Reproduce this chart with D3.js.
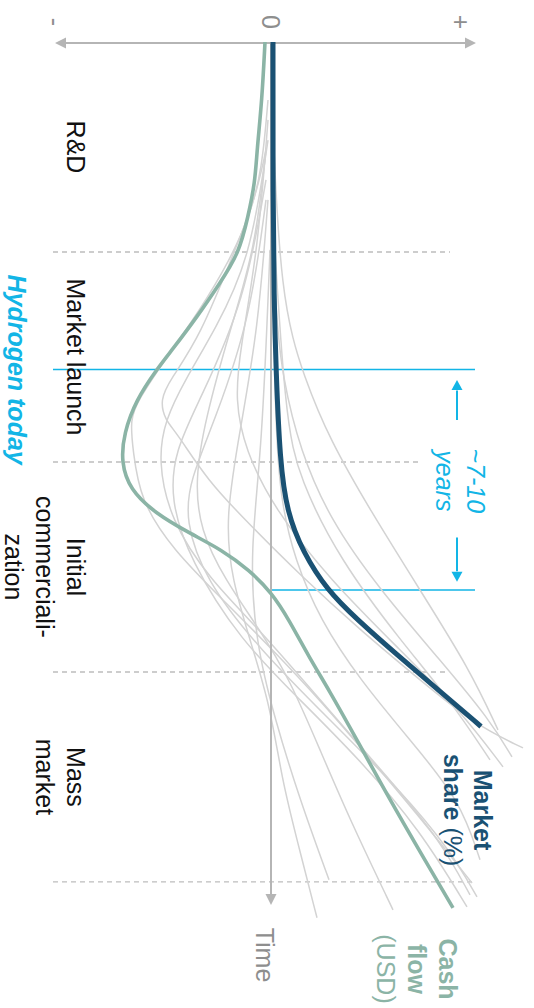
<!DOCTYPE html>
<html>
<head>
<meta charset="utf-8">
<script src="https://cdn.jsdelivr.net/npm/d3@7"></script>
<style>
  html, body { margin: 0; padding: 0; background: #ffffff; }
  svg { display: block; }
  text { font-family: "Liberation Sans", Arial, Helvetica, sans-serif; }
</style>
</head>
<body>
<svg id="chart" width="534" height="1008"></svg>
<script>
// ---------- DATA (time in phase units ×10, value in relative units) ----------
const phaseLabels = [["R&D"], ["Market launch"], ["Initial", "commerciali-", "zation"], ["Mass", "market"]];
const phaseCenters = [5, 15, 25, 35];
const phaseBoundaries = [10, 20, 30, 40];
const boundaryEnds = [89.5, 74.5, 88.5, 101];

const valueTickLabels = ["-", "0", "+"];
const valueTickValues = [-108, 0, 95];
const timeLabel = "Time";

const hydrogenToday = 15.6;
const hydrogenFuture = 26.1;
const spanLabel = ["~7-10", "years"];

// [time, value]
const marketShare = [
  [0, 1], [7.5, 1], [12.2, 1.5], [15.6, 2.5], [20, 4.5], [22.4, 8], [24.3, 16],
  [26.1, 28], [27.5, 43], [29.1, 62], [30.8, 83], [32.6, 105]
];
const cashFlow = [
  [0, -3], [2.76, -4.5], [5.14, -7], [6.71, -8], [8.33, -11.5], [10.05, -16],
  [11.48, -25.5], [13.1, -37], [14.67, -49.5], [15.57, -57], [17.05, -67.5],
  [18.62, -73.5], [20, -75], [21.33, -70.5], [22.43, -58], [23.38, -41],
  [24.19, -24.5], [25.14, -11], [26.24, 0.5], [27.52, 9], [29.29, 19],
  [30.86, 29], [33.24, 43], [36.1, 59.5], [38.81, 76], [41.24, 91]
];
const otherTechnologies = [
  [[2.76, -1.5], [6.1, -4.5], [8.24, -10.5], [10.38, -20.5], [12.76, -35.5], [15.14, -53], [17.05, -66.5], [18, -70.5], [19.43, -69], [21.81, -65.5], [24.19, -49], [26.57, -24], [28.81, -0.5], [31.33, 24.5], [34.67, 54.5], [37.52, 79.5], [40.05, 100.5]],
  [[5.14, -2.5], [7.52, -8], [9.9, -18], [14.05, -35.5], [16.1, -50.5], [17.05, -55.5], [18, -53], [18.62, -47], [20.86, -32], [23, -10.5], [25.38, 14.5], [28, 44.5], [30.38, 74.5], [32.52, 102], [33.62, 126]],
  [[5.14, -2.5], [9.9, -8], [13.71, -20.5], [18, -33], [20.86, -38], [23.24, -35.5], [25.62, -23], [28, -5.5], [30.38, 9.5], [33.71, 24.5], [37.05, 39.5], [41.33, 61]],
  [[7.52, -1.5], [13.71, -6.5], [18.48, -15.5], [22.76, -23], [25.62, -19.5], [28.48, -10.5], [31.57, -0.5], [35.14, 5.5], [38, 13], [41.71, 23]],
  [[6.57, -2.5], [12.29, -13], [17.05, -35.5], [19.43, -48], [21.81, -50.5], [24.67, -40.5], [28.48, -15.5], [31.33, 14.5], [34.19, 44.5], [37.52, 74.5], [41.19, 98]],
  [[7.52, -2.5], [13.24, -10.5], [18, -28], [20.86, -40.5], [22.76, -43], [25.62, -33], [28.95, -5.5], [32.29, 29.5], [35.62, 64.5], [38.48, 89.5], [40.71, 103]],
  [[3.71, -1.5], [9.9, -6.5], [14.67, -15.5], [17.05, -18], [19.43, -13], [22.29, 2], [25.62, 29.5], [28.95, 64.5], [31.81, 94.5], [34.52, 116]],
  [[0, 0.5], [12.29, 1], [16.1, 6], [19.43, 14.5], [22.76, 29.5], [26.1, 54.5], [29.43, 84.5], [32.29, 109.5], [34.05, 120.5]],
  [[2.76, 0.5], [12.29, 4.5], [16.1, 17], [18.95, 29.5], [22.29, 49.5], [26.1, 74.5], [29.9, 99.5], [32.76, 113.5]],
  [[5.14, 0.5], [17.05, 1.5], [21.81, 4.5], [24.67, 12], [27.52, 24.5], [30.38, 44.5], [33.24, 69.5], [36.1, 94.5], [38.95, 104.5]],
  [[9.9, -0.5], [19.43, -4.5], [24.19, -10.5], [28.48, -8], [32.29, 2], [36.1, 14.5], [39.9, 29]],
  [[7.52, 0.5], [18, 7], [20.86, 14.5], [24.67, 34.5], [28.48, 64.5], [31.33, 89.5], [34.19, 109.5]],
  [[4.67, -1.5], [10.38, -10.5], [13.71, -28], [16.1, -43], [18, -53], [19.9, -56.5], [22.76, -50.5], [25.62, -30.5], [28, -5.5], [31.33, 24.5], [35.14, 59.5], [38, 84.5], [40.62, 99.5]]
];
const valueAxisExtent = [-108, 102.5];
const timeAxisExtent = [0, 41.1];

// ---------- STYLE ----------
const C = {
  blue: "#1a5173", green: "#8bb4a6", gray: "#d3d3d3", axis: "#b5b5b5",
  dash: "#bdbdbd", cyan: "#12b5e6", label: "#8e8e8e", text: "#111111"
};
const FS = 25;

const svg = d3.select("#chart");
const x = d3.scaleLinear().domain([-108, 100]).range([55, 471]);
const y = d3.scaleLinear().domain([0, 41.1]).range([42, 905]);
const line = d3.line().x(d => x(d[1])).y(d => y(d[0])).curve(d3.curveBasis);

// rotated multi-line text; lines stack to the left (page), each line reads top-to-bottom
function rotText(px, py, lines, opts) {
  const g = svg.append("g").attr("transform", `translate(${px},${py}) rotate(90)`);
  const t = g.append("text").attr("text-anchor", "middle")
    .attr("fill", opts.fill).attr("font-size", FS)
    .attr("font-weight", opts.weight || "normal")
    .attr("font-style", opts.style || "normal");
  lines.forEach((ln, i) => {
    const ts = t.append("tspan").attr("x", 0).attr("y", i * (opts.lh || 31));
    if (Array.isArray(ln)) {
      ln.forEach(part => ts.append("tspan").attr("font-weight", part.w || null).text(part.t));
    } else ts.text(ln);
  });
  return t;
}

// phase boundary dashed lines
svg.append("g").selectAll("line").data(phaseBoundaries).join("line")
  .attr("x1", x(-109)).attr("x2", (d, i) => x(boundaryEnds[i]))
  .attr("y1", d => y(d)).attr("y2", d => y(d))
  .attr("stroke", C.dash).attr("stroke-width", 1.4).attr("stroke-dasharray", "5,4");

// hydrogen today lines
svg.append("line").attr("x1", x(-109)).attr("x2", x(102)).attr("y1", y(hydrogenToday)).attr("y2", y(hydrogenToday))
  .attr("stroke", C.cyan).attr("stroke-width", 1.5);
svg.append("line").attr("x1", x(0)).attr("x2", x(102)).attr("y1", y(hydrogenFuture)).attr("y2", y(hydrogenFuture))
  .attr("stroke", C.cyan).attr("stroke-width", 1.5);

// other technologies
svg.append("g").selectAll("path").data(otherTechnologies).join("path")
  .attr("d", line).attr("fill", "none").attr("stroke", C.gray).attr("stroke-width", 1.5);

// axes
svg.append("line").attr("x1", x(valueAxisExtent[0]) + 6).attr("x2", x(valueAxisExtent[1]) - 6)
  .attr("y1", y(0) + 1).attr("y2", y(0) + 1).attr("stroke", C.axis).attr("stroke-width", 2.2);
svg.append("path").attr("fill", C.axis)
  .attr("d", `M${x(valueAxisExtent[0])},${y(0) + 1} l11,-5.5 v11 Z M${x(valueAxisExtent[1])},${y(0) + 1} l-11,-5.5 v11 Z`);
svg.append("line").attr("x1", x(0)).attr("x2", x(0)).attr("y1", y(timeAxisExtent[0])).attr("y2", y(timeAxisExtent[1]) - 6)
  .attr("stroke", C.axis).attr("stroke-width", 2);
svg.append("path").attr("fill", C.axis)
  .attr("d", `M${x(0)},${y(timeAxisExtent[1])} l-5.5,-11 h11 Z`);

// main curves
svg.append("path").attr("d", line(cashFlow)).attr("fill", "none").attr("stroke", C.green)
  .attr("stroke-width", 3.6).attr("stroke-linecap", "butt");
svg.append("path").attr("d", line(marketShare)).attr("fill", "none").attr("stroke", C.blue)
  .attr("stroke-width", 5).attr("stroke-linecap", "butt");

// cyan span arrows
const ax = x(93);
svg.append("line").attr("x1", ax).attr("x2", ax).attr("y1", y(18)).attr("y2", y(16.6)).attr("stroke", C.cyan).attr("stroke-width", 2);
svg.append("path").attr("fill", C.cyan).attr("d", `M${ax},${y(16.1)} l-5.5,10 h11 Z`);
svg.append("line").attr("x1", ax).attr("x2", ax).attr("y1", y(23.6)).attr("y2", y(25.2)).attr("stroke", C.cyan).attr("stroke-width", 2);
svg.append("path").attr("fill", C.cyan).attr("d", `M${ax},${y(25.7)} l-5.5,-10 h11 Z`);

// value tick labels
valueTickValues.forEach((v, i) => {
  rotText(x(v), 22, [valueTickLabels[i]], { fill: C.label }).attr("dy", "0.35em");
});

// phase labels
phaseLabels.forEach((lines, i) => {
  rotText(67, y(phaseCenters[i]), lines, { fill: C.text });
});

// time label
rotText(256, 955, [timeLabel], { fill: C.label });

// Hydrogen today
rotText(8, y(hydrogenToday), ["Hydrogen today"], { fill: C.cyan, weight: "bold", style: "italic" });

// ~7-10 years
rotText(467, y(20.9), spanLabel, { fill: C.cyan, style: "italic", lh: 31 });

// Series labels
rotText(474, 810, ["Market", [{ t: "share ", w: "bold" }, { t: "(%)", w: "normal" }]], { fill: C.blue, weight: "bold", lh: 30 });
rotText(439, 969, ["Cash", "flow", [{ t: "(USD)", w: "normal" }]], { fill: C.green, weight: "bold", lh: 31 });
</script>
</body>
</html>
